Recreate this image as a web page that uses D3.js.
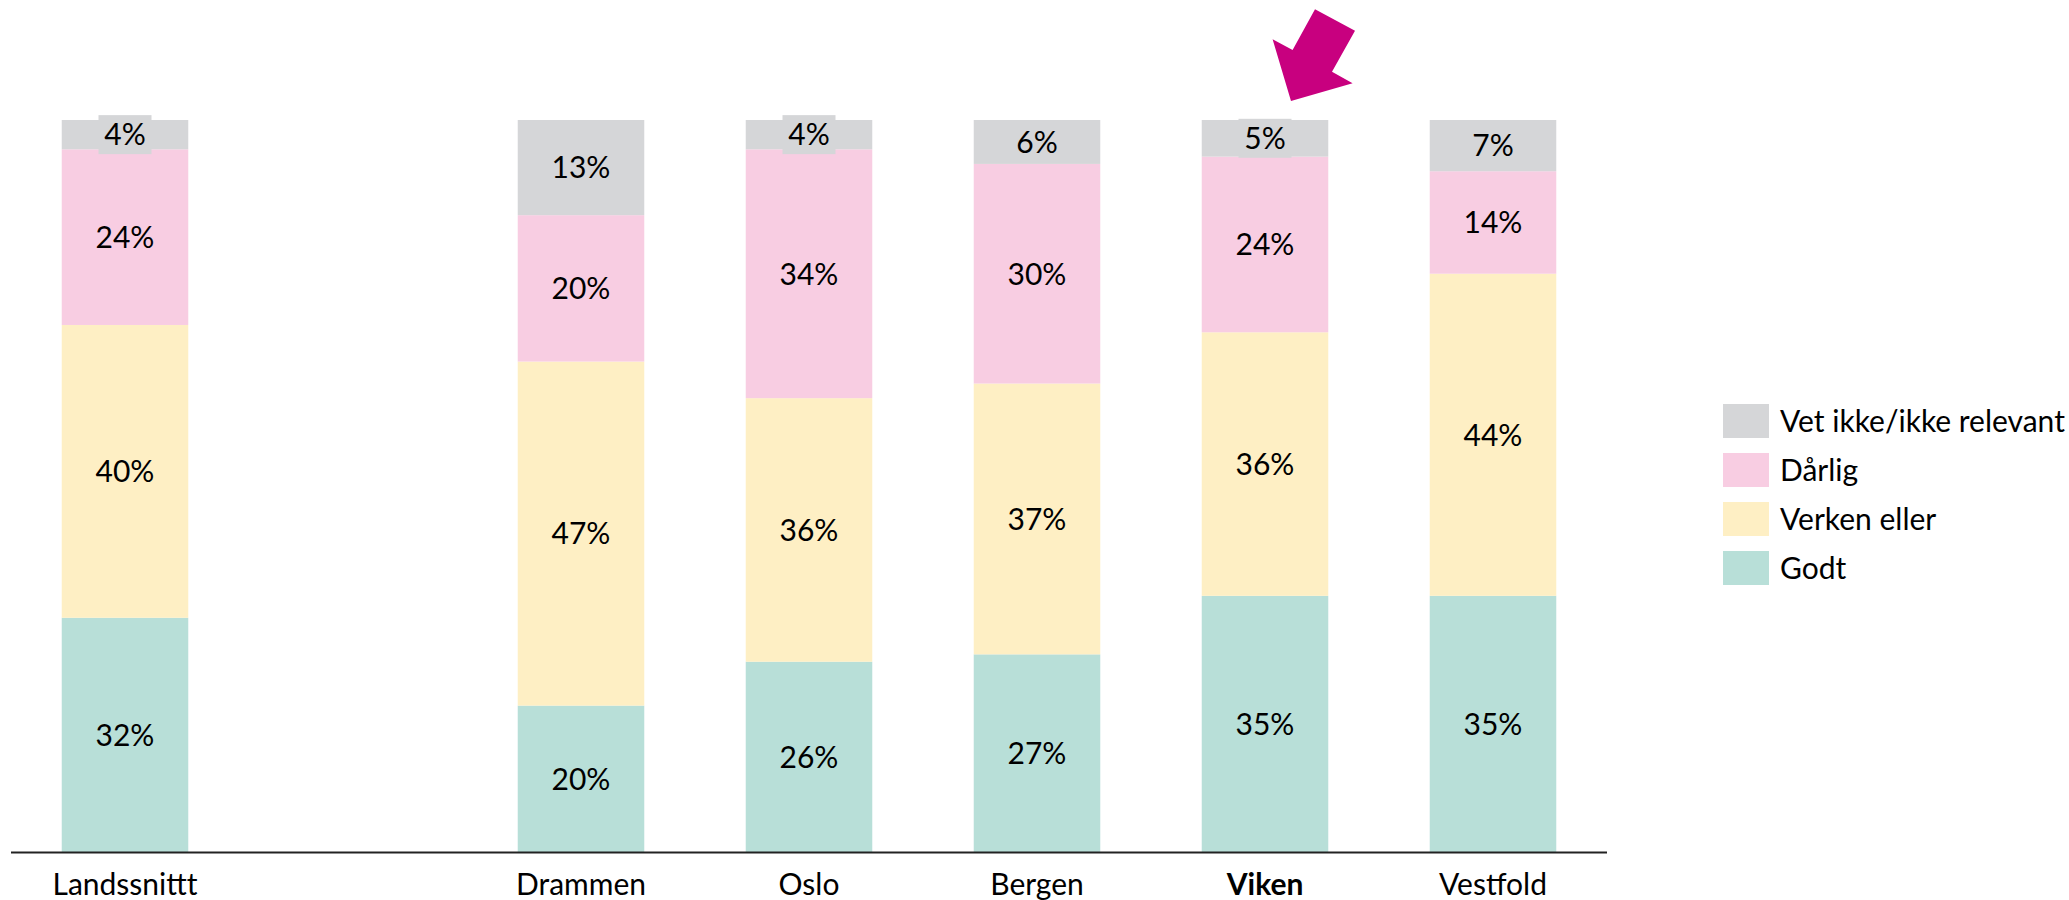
<!DOCTYPE html>
<html>
<head>
<meta charset="utf-8">
<script src="https://cdn.jsdelivr.net/npm/d3@7"></script>
<style>
  body { margin: 0; background: #fff; }
  text { font-family: Lato, "Open Sans", sans-serif; fill: #000; }
</style>
</head>
<body>
<div id="grafiek"></div>
<script>
// Kategorier (tom plass mellom landssnitt og byene)
const categories = ['Landssnittt', '', 'Drammen', 'Oslo', 'Bergen', 'Viken', 'Vestfold'];
const series = ['Godt', 'Verken eller', 'Dårlig', 'Vet ikke/ikke relevant'];
const godt = [32, null, 20, 26, 27, 35, 35];
const verken = [40, null, 47, 36, 37, 36, 44];
const darlig = [24, null, 20, 34, 30, 24, 14];
const vetIkke = [4, null, 13, 4, 6, 5, 7];
const colors = ['#b8dfd8', '#feefc4', '#f8cde2', '#d5d6d8'];
const highlight = 'Viken';

const width = 2069, height = 900;
const svg = d3.select('#grafiek')
  .append('svg')
  .attr('width', width)
  .attr('height', height);

const rows = categories.map((c, i) => ({
  cat: c, 'Godt': godt[i], 'Verken eller': verken[i], 'Dårlig': darlig[i], 'Vet ikke/ikke relevant': vetIkke[i]
})).filter(d => d.cat !== '');

const x = d3.scaleBand()
  .domain(categories)
  .range([11, 1607])
  .paddingInner(0.445)
  .paddingOuter(0.2225);

const y = d3.scaleLinear()
  .domain([0, 100])
  .range([852, 120]);

const stacked = d3.stack().keys(series)(rows);

const layer = svg.append('g')
  .selectAll('g')
  .data(stacked)
  .enter()
  .append('g')
  .attr('fill', (d, i) => colors[i]);

layer.selectAll('rect')
  .data(d => d)
  .enter()
  .append('rect')
  .attr('x', d => x(d.data.cat))
  .attr('width', x.bandwidth())
  .attr('y', d => y(d[1]))
  .attr('height', d => y(d[0]) - y(d[1]));

// Dataetiketter
stacked.forEach((s, si) => {
  s.forEach(d => {
    const cx = x(d.data.cat) + x.bandwidth() / 2;
    const cy = (y(d[0]) + y(d[1])) / 2;
    const segH = y(d[0]) - y(d[1]);
    const g = svg.append('g');
    if (si === 3 && segH < 38) {
      g.append('rect')
        .attr('x', cx - 26.5)
        .attr('y', cy - 19.5)
        .attr('width', 53)
        .attr('height', 39)
        .attr('fill', colors[si]);
    }
    g.append('text')
      .attr('x', cx)
      .attr('y', cy)
      .attr('text-anchor', 'middle')
      .attr('dy', '0.36em')
      .style('font-size', '30px')
      .text((d[1] - d[0]) + '%');
  });
});

// X-akse
svg.append('line')
  .attr('x1', x.range()[0])
  .attr('x2', x.range()[1])
  .attr('y1', y(0) + 0.5)
  .attr('y2', y(0) + 0.5)
  .attr('stroke', '#222')
  .attr('stroke-width', 2);

svg.append('g')
  .selectAll('text')
  .data(categories.filter(c => c !== ''))
  .enter()
  .append('text')
  .attr('x', d => x(d) + x.bandwidth() / 2)
  .attr('y', 895)
  .attr('text-anchor', 'middle')
  .style('font-size', '30px')
  .style('font-weight', d => d === highlight ? 'bold' : 'normal')
  .text(d => d);

// Pil over Viken
const ax = x(highlight) + x.bandwidth() / 2;
const ay = y(100);
const arrow = [[26, -19], [7.6, -80.7], [27.6, -70], [50, -110.7], [90, -89.3], [67, -48.3], [87.6, -36.7]];
svg.append('polygon')
  .attr('points', arrow.map(p => (ax + p[0]) + ',' + (ay + p[1])).join(' '))
  .attr('fill', '#c8007f');

// Tegnforklaring
const legendKeys = series.slice().reverse();
const legend = svg.append('g')
  .selectAll('g')
  .data(legendKeys)
  .enter()
  .append('g')
  .attr('transform', (d, i) => `translate(1723, ${404 + i * 49})`);

legend.append('rect')
  .attr('width', 46)
  .attr('height', 34)
  .attr('fill', d => colors[series.indexOf(d)]);

legend.append('text')
  .attr('x', 57)
  .attr('y', 17)
  .attr('dy', '0.36em')
  .style('font-size', '30px')
  .text(d => d);
</script>
</body>
</html>
